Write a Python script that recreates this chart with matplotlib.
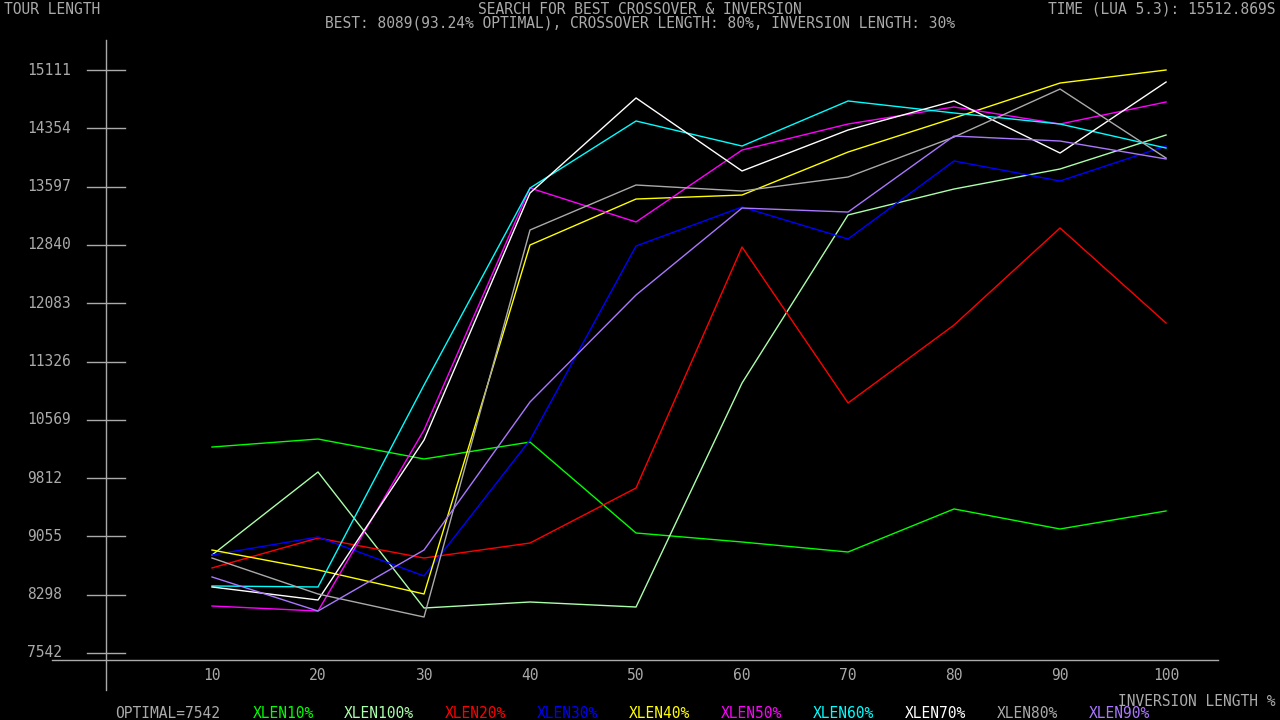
import matplotlib
matplotlib.use("Agg")
import matplotlib.pyplot as plt

lengths = [10, 20, 30, 40, 50, 60, 70, 80, 90, 100]
yticks = [7542, 8298, 9055, 9812, 10569, 11326, 12083, 12840, 13597, 14354, 15111]

names = ["XLEN10%", "XLEN100%", "XLEN20%", "XLEN30%", "XLEN40%",
         "XLEN50%", "XLEN60%", "XLEN70%", "XLEN80%", "XLEN90%"]
colors = ["#00ff00", "#aaffaa", "#ff0000", "#0000ff", "#ffff00",
          "#ff00ff", "#00ffff", "#ffffff", "#aaaaaa", "#aa77ff"]
series = [
    [10216, 10320, 10061, 10281, 9100, 8983, 8853, 9412, 9152, 9386],
    [8814, 9892, 8126, 8204, 8139, 11047, 13229, 13566, 13826, 14267],
    [8646, 9035, 8775, 8970, 9684, 12813, 10788, 11800, 13060, 11826],
    [8814, 9048, 8542, 10307, 12826, 13332, 12917, 13930, 13670, 14124],
    [8879, 8620, 8308, 12839, 13436, 13488, 14046, 14488, 14942, 15111],
    [8152, 8087, 10437, 13579, 13138, 14072, 14410, 14631, 14410, 14696],
    [8412, 8399, 11021, 13579, 14449, 14124, 14709, 14553, 14410, 14098],
    [8399, 8230, 10307, 13514, 14748, 13800, 14332, 14709, 14033, 14955],
    [8775, 8308, 8009, 13034, 13618, 13540, 13722, 14241, 14864, 13968],
    [8529, 8087, 8879, 10801, 12190, 13319, 13267, 14254, 14189, 13956],
]

grey = "#aaaaaa"
mono = "DejaVu Sans Mono"
fs = 10.5
fig = plt.figure(figsize=(12.8, 7.2), dpi=100, facecolor="black")
ax = fig.add_axes([0, 0, 1, 1])
ax.set_facecolor("black")
ax.set_xlim(-10, 110.75)
ax.set_ylim(6672, 16020)
ax.axis("off")

px = 1 / 10.6     # data units per pixel (x)
py = 12.983       # data units per pixel (y)

def txt(x, y, s, c=grey, **kw):
    fig.text(x / 1280, 1 - y / 720, s, color=c, fontsize=fs, family=mono,
             va="center", fontweight="light", **kw)

# axes lines
ax.plot([-10 + 106 * px] * 2, [16020 - 40 * py, 16020 - 690 * py], color=grey, lw=1)
ax.plot([-10 + 52 * px, -10 + 1218 * px], [16020 - 660 * py] * 2, color=grey, lw=1)
for t in yticks:
    ax.plot([-10 + 87 * px, -10 + 125 * px], [t, t], color=grey, lw=1)
    ax.text(-10 + 27 * px, t, str(t), color=grey, fontsize=fs, family=mono, va="center")
for x in lengths:
    ax.text(x, 16020 - 676 * py, str(x), color=grey, fontsize=fs, family=mono, ha="center", va="center")

for vals, c in zip(series, colors):
    ax.plot(lengths, vals, color=c, lw=1)

txt(4, 9, "TOUR LENGTH")
txt(640, 9, "SEARCH FOR BEST CROSSOVER & INVERSION", ha="center")
txt(640, 23, "BEST: 8089(93.24% OPTIMAL), CROSSOVER LENGTH: 80%, INVERSION LENGTH: 30%", ha="center")
txt(1276, 9, "TIME (LUA 5.3): 15512.869S", ha="right")
txt(1276, 701, "INVERSION LENGTH %", ha="right")

txt(115, 714, "OPTIMAL=7542")
lx = [253, 344, 445, 537, 629, 721, 813, 905, 997, 1089]
for x, n, c in zip(lx, names, colors):
    txt(x, 714, n, c)

fig.savefig("out.png", dpi=100, facecolor="black")
